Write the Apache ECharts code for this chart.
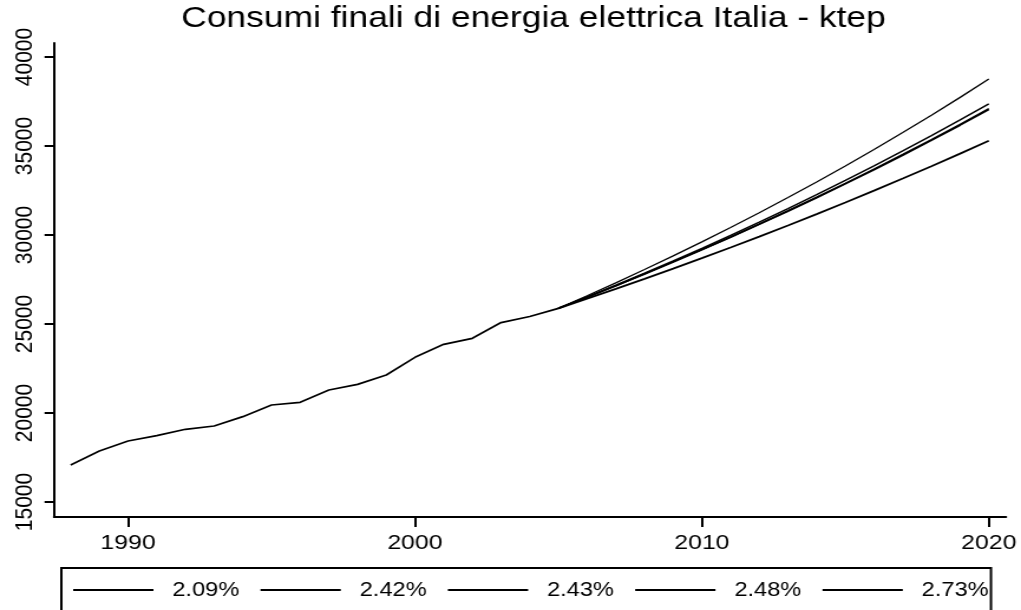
<!DOCTYPE html>
<html>
<head>
<meta charset="utf-8">
<title>Consumi finali di energia elettrica Italia - ktep</title>
<script src="https://cdn.jsdelivr.net/npm/echarts@6/dist/echarts.min.js"></script>
<style>
  html, body { margin: 0; padding: 0; background: #fff; overflow: hidden; }
  /* the figure is laid out on a narrower canvas and widened to the page width */
  #chart { width: 865px; height: 610px; transform: scaleX(1.18035); transform-origin: 0 0; }
</style>
</head>
<body>
<div id="chart"></div>
<script>
// Historical final electricity consumption (ktep)
const histYears = [1988, 1989, 1990, 1991, 1992, 1993, 1994, 1995, 1996, 1997, 1998, 1999, 2000, 2001, 2002, 2003, 2004, 2005];
const histValues = [17079, 17865, 18427, 18725, 19084, 19270, 19794, 20449, 20599, 21292, 21610, 22135, 23127, 23858, 24195, 25080, 25420, 25880];

// Projections 2005-2020 under different yearly growth rates
const projYears = [2005, 2006, 2007, 2008, 2009, 2010, 2011, 2012, 2013, 2014, 2015, 2016, 2017, 2018, 2019, 2020];
const proj209 = [25880, 26421, 26973, 27537, 28112, 28700, 29300, 29912, 30537, 31175, 31827, 32492, 33171, 33864, 34572, 35295];
const proj242 = [25880, 26506, 27147, 27804, 28477, 29166, 29872, 30595, 31335, 32093, 32870, 33665, 34480, 35314, 36169, 37044];
const proj243 = [25880, 26509, 27153, 27813, 28489, 29181, 29890, 30616, 31360, 32122, 32903, 33702, 34521, 35360, 36219, 37099];
const proj248 = [25880, 26522, 27180, 27854, 28545, 29253, 29978, 30722, 31484, 32265, 33065, 33885, 34725, 35586, 36469, 37373];
const proj273 = [25880, 26587, 27313, 28059, 28825, 29612, 30420, 31250, 32103, 32979, 33879, 34804, 35754, 36730, 37733, 38763];

const scenarioNames = ['2.09%', '2.42%', '2.43%', '2.48%', '2.73%'];
const scenarioValues = [proj209, proj242, proj243, proj248, proj273];
const scenarioWidths = [1.8, 1.6, 1.6, 1.5, 1.3];

const xTicks = [1990, 2000, 2010, 2020];
const yTicks = [15000, 20000, 25000, 30000, 35000, 40000];

const zip = (xs, ys) => xs.map((x, i) => [x, ys[i]]);
const FONT = '"Liberation Sans", Arial, sans-serif';

const series = [{
  name: 'storico',
  type: 'line',
  data: zip(histYears, histValues),
  symbol: 'none',
  lineStyle: { color: '#000', width: 1.7 },
  itemStyle: { color: '#000' },
  silent: true,
  animation: false,
  z: 3
}].concat(scenarioNames.map((name, i) => ({
  name: name,
  type: 'line',
  data: zip(projYears, scenarioValues[i]),
  symbol: 'none',
  lineStyle: { color: '#000', width: scenarioWidths[i] },
  itemStyle: { color: '#000' },
  silent: true,
  animation: false,
  z: 2
})));

const chart = echarts.init(document.getElementById('chart'), null, { renderer: 'canvas' });
chart.setOption({
  backgroundColor: '#fff',
  animation: false,
  title: {
    text: 'Consumi finali di energia elettrica Italia - ktep',
    left: 452,
    top: 4,
    padding: 0,
    textAlign: 'center',
    textStyle: { fontFamily: FONT, fontSize: 30, fontWeight: 'normal', color: '#000' }
  },
  grid: { left: 45.75, right: 12.7, top: 43, bottom: 93, containLabel: false },
  xAxis: {
    type: 'value',
    min: 1987.42,
    max: 2020.6,
    axisLine: { show: true, lineStyle: { color: '#000', width: 2 } },
    axisTick: { show: true, customValues: xTicks, length: 10, lineStyle: { color: '#000', width: 2 } },
    axisLabel: {
      customValues: xTicks,
      margin: 16,
      fontFamily: FONT, fontSize: 21, color: '#000',
      formatter: v => String(v)
    },
    splitLine: { show: false }
  },
  yAxis: {
    type: 'value',
    min: 14157,
    max: 40787,
    axisLine: { show: true, lineStyle: { color: '#000', width: 2 } },
    axisTick: { show: true, customValues: yTicks, length: 8, lineStyle: { color: '#000', width: 2 } },
    axisLabel: {
      customValues: yTicks,
      rotate: 90,
      margin: 14,
      fontFamily: FONT, fontSize: 21, color: '#000',
      formatter: v => String(v)
    },
    splitLine: { show: false }
  },
  legend: {
    data: scenarioNames,
    left: 52,
    top: 568,
    orient: 'horizontal',
    padding: [12, 2, 40, 10],
    itemGap: 18,
    itemWidth: 68,
    itemHeight: 2,
    icon: 'rect',
    selectedMode: false,
    borderColor: '#000',
    borderWidth: 2,
    itemStyle: { color: '#000' },
    textStyle: { fontFamily: FONT, fontSize: 20, color: '#000', padding: [0, 0, 0, 11] }
  },
  series: series
});
</script>
</body>
</html>
